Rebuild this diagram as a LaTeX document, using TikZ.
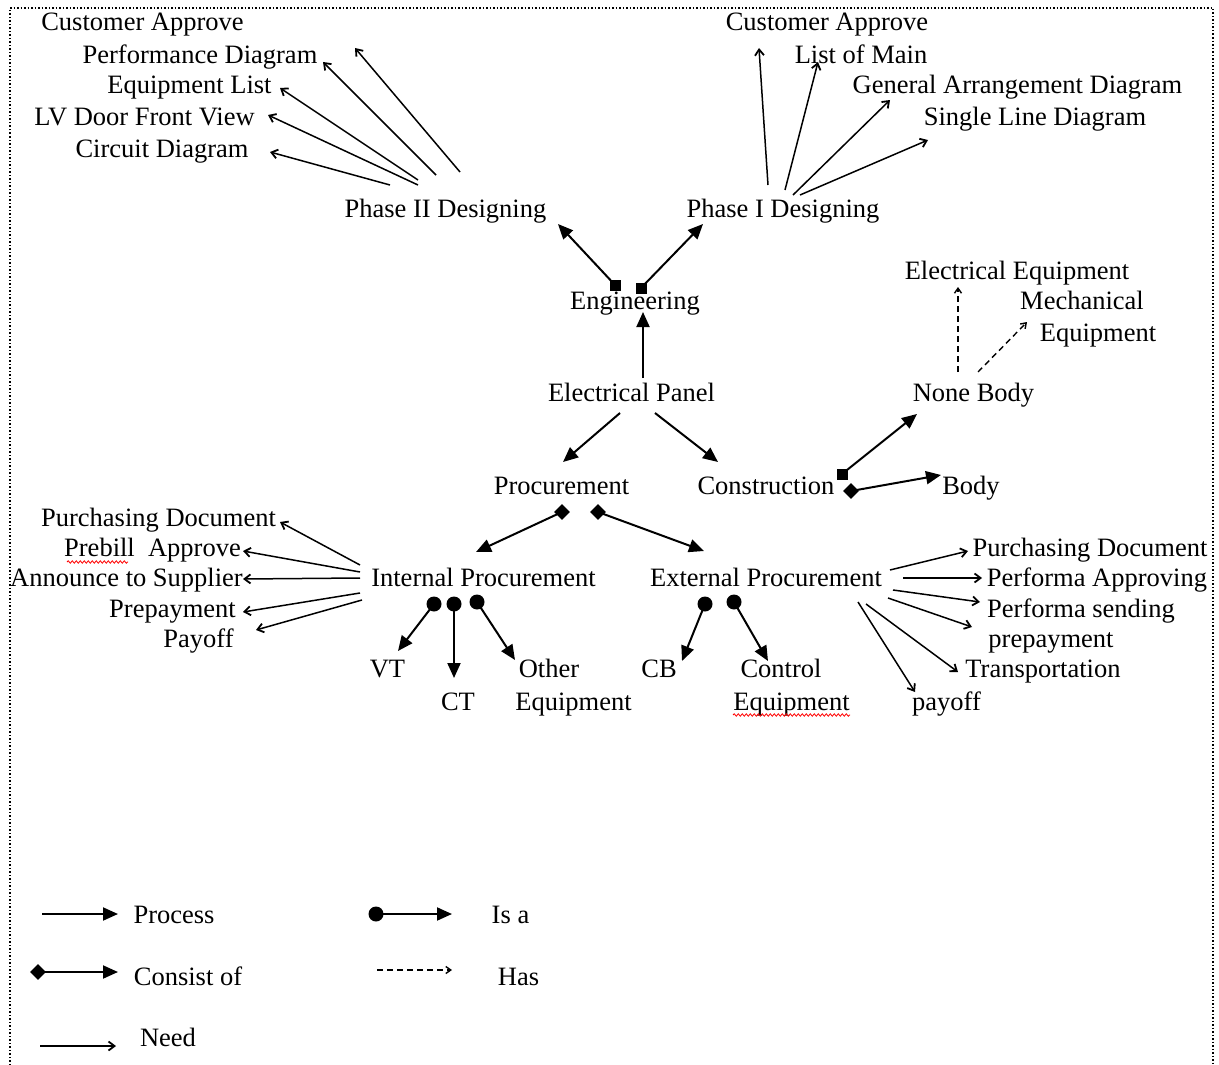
\documentclass[tikz,border=0pt]{standalone}
\usepackage{fontspec}
\setmainfont{Liberation Serif}
\usetikzlibrary{arrows.meta,shapes.geometric,decorations.pathmorphing}

\begin{document}
\begin{tikzpicture}[x=1pt,y=-1pt,
  lbl/.style={inner sep=0pt, anchor=base, font=\fontsize{26.5}{30}\selectfont},
  proc/.style={line width=2pt, -{Triangle[length=15pt,width=13pt]}},
  need/.style={line width=1.5pt, -{Straight Barb[length=6pt,width=9pt,line width=1.8pt]}},
  has/.style={line width=1.4pt, dash pattern=on 6pt off 4pt, -{Straight Barb[length=5pt,width=7pt]}},
  sq/.style={fill=black, minimum size=11pt, inner sep=0pt},
  dot/.style={circle, fill=black, minimum size=15pt, inner sep=0pt},
  dia/.style={diamond, fill=black, minimum size=16pt, inner sep=0pt},
  spell/.style={red, line width=0.8pt, decorate, decoration={snake, amplitude=1.2pt, segment length=4pt}}
]
\useasboundingbox (0,0) rectangle (1219,1065);
% open dotted frame
\draw[line width=1.5pt, dotted] (10,1065) -- (10,8) -- (1213,8) -- (1213,1065);

% ---------- labels ----------
\node[lbl] (caL)     at (142.5,31)  {Customer Approve};
\node[lbl] (perf)    at (200,64)    {Performance Diagram};
\node[lbl] (eqlist)  at (189.5,94)  {Equipment List};
\node[lbl] (lvdoor)  at (144.5,125) {LV Door Front View};
\node[lbl] (circ)    at (162,157)   {Circuit Diagram};
\node[lbl] (ph2)     at (445.5,217) {Phase II Designing};
\node[lbl] (caR)     at (827,31)    {Customer Approve};
\node[lbl] (listmain) at (861,64)   {List of Main};
\node[lbl] (gad)     at (1017.5,94) {General Arrangement Diagram};
\node[lbl] (sld)     at (1035,125)  {Single Line Diagram};
\node[lbl] (ph1)     at (783,217)   {Phase I Designing};
\node[lbl] (eng)     at (635,309)   {Engineering};
\node[lbl] (ep)      at (631.5,401) {Electrical Panel};
\node[lbl] (proc)    at (561.5,494) {Procurement};
\node[lbl] (cons)    at (766,494)   {Construction};
\node[lbl] (nb)      at (973.5,401) {None Body};
\node[lbl] (body)    at (971,494)   {Body};
\node[lbl] (ee)      at (1017,279)  {Electrical Equipment};
\node[lbl] (mech)    at (1082,309)  {Mechanical};
\node[lbl] (meq)     at (1098,341)  {Equipment};
\node[lbl] (ip)      at (483.5,586) {Internal Procurement};
\node[lbl] (pdL)     at (158.5,526) {Purchasing Document};
\node[lbl] (prebill) at (152.5,556) {Prebill\ \ Approve};
\node[lbl] (ann)     at (126.5,586) {Announce to Supplier};
\node[lbl] (prepL)   at (172.5,617) {Prepayment};
\node[lbl] (payoffL) at (198.5,647) {Payoff};
\node[lbl] (vt)      at (387.5,677) {VT};
\node[lbl] (ct)      at (458,710)   {CT};
\node[lbl] (other)   at (549,677)   {Other};
\node[lbl] (oeq)     at (573.5,710) {Equipment};
\node[lbl] (xp)      at (766,586)   {External Procurement};
\node[lbl] (cb)      at (659,677)   {CB};
\node[lbl] (ctrl)    at (781,677)   {Control};
\node[lbl] (ceq)     at (791.5,710) {Equipment};
\node[lbl] (pdR)     at (1090,556)  {Purchasing Document};
\node[lbl] (pa)      at (1097,586)  {Performa Approving};
\node[lbl] (ps)      at (1081,617)  {Performa sending};
\node[lbl] (prepR)   at (1051,647)  {prepayment};
\node[lbl] (trans)   at (1043,677)  {Transportation};
\node[lbl] (payoffR) at (946.5,710) {payoff};

% spell-check underlines
\draw[spell] (67,562) -- (128,562);
\draw[spell] (733,715) -- (850,715);

% ---------- Phase II needs ----------
\foreach \sx/\sy/\ex/\ey [count=\i] in {460/172/355/48, 436/175/323/62, 418/180/280/88, 418/185/268/115, 390/185/270/152}{
  \coordinate (p2s\i) at (\sx,\sy); \coordinate (p2e\i) at (\ex,\ey);
  \draw[need] (p2s\i) -- (p2e\i);
}
% ---------- Phase I needs ----------
\foreach \sx/\sy/\ex/\ey [count=\i] in {768/185/759/48, 785/190/818/62, 793/195/890/100, 800/195/928/140}{
  \coordinate (p1s\i) at (\sx,\sy); \coordinate (p1e\i) at (\ex,\ey);
  \draw[need] (p1s\i) -- (p1e\i);
}

% ---------- Engineering ----------
\node[sq] (engA) at (615,285) {};
\node[sq] (engB) at (641,288) {};
\coordinate (ph2in) at (558,224);
\coordinate (ph1in) at (703,224);
\draw[proc] (engA.center) -- (ph2in);
\draw[proc] (engB.center) -- (ph1in);
\coordinate (epTop) at (643,378);
\coordinate (engBot) at (643,312);
\draw[proc] (epTop) -- (engBot);

% ---------- Electrical Panel ----------
\coordinate (epL) at (620,413);
\coordinate (epR) at (655,413);
\coordinate (procIn) at (563,462);
\coordinate (consIn) at (718,462);
\draw[proc] (epL) -- (procIn);
\draw[proc] (epR) -- (consIn);

% ---------- Construction ----------
\node[sq] (consA) at (842,474) {};
\node[dia] (consB) at (851,491) {};
\coordinate (nbIn) at (917,414);
\coordinate (bodyIn) at (941,475);
\draw[proc] (consA.center) -- (nbIn);
\draw[proc] (consB.center) -- (bodyIn);

% ---------- None Body ----------
\coordinate (nbA) at (958,372);
\coordinate (nbB) at (978,372);
\coordinate (eeIn) at (958,287);
\coordinate (meqIn) at (1027,322);
\draw[has] (nbA) -- (eeIn);
\draw[has] (nbB) -- (meqIn);

% ---------- Procurement ----------
\node[dia] (procA) at (562,512) {};
\node[dia] (procB) at (598,512) {};
\coordinate (ipIn) at (476,552);
\coordinate (xpIn) at (704,551);
\draw[proc] (procA.center) -- (ipIn);
\draw[proc] (procB.center) -- (xpIn);

% ---------- Internal Procurement needs ----------
\foreach \sx/\sy/\ex/\ey [count=\i] in {360/565/280/522, 360/572/243/551, 360/578/243/579, 360/593/243/612, 362/600/256/630}{
  \coordinate (ips\i) at (\sx,\sy); \coordinate (ipe\i) at (\ex,\ey);
  \draw[need] (ips\i) -- (ipe\i);
}
% ---------- Internal Procurement kinds ----------
\node[dot] (ipA) at (434,604) {};
\node[dot] (ipB) at (454,604) {};
\node[dot] (ipC) at (477,602) {};
\coordinate (vtIn) at (398,651);
\coordinate (ctIn) at (454,678);
\coordinate (otherIn) at (515,660);
\draw[proc] (ipA.center) -- (vtIn);
\draw[proc] (ipB.center) -- (ctIn);
\draw[proc] (ipC.center) -- (otherIn);

% ---------- External Procurement kinds ----------
\node[dot] (xpA) at (705,604) {};
\node[dot] (xpB) at (734,602) {};
\coordinate (cbIn) at (682,661);
\coordinate (ctrlIn) at (768,661);
\draw[proc] (xpA.center) -- (cbIn);
\draw[proc] (xpB.center) -- (ctrlIn);

% ---------- External Procurement needs ----------
\foreach \sx/\sy/\ex/\ey [count=\i] in {890/570/968/551, 903/578/982/578, 893/590/980/602, 888/598/972/627, 866/604/958/672, 858/602/915/692}{
  \coordinate (xps\i) at (\sx,\sy); \coordinate (xpe\i) at (\ex,\ey);
  \draw[need] (xps\i) -- (xpe\i);
}

% ---------- legend ----------
\coordinate (lg1a) at (42,914);  \coordinate (lg1b) at (118,914);
\draw[proc] (lg1a) -- (lg1b);
\node[lbl] (lgProc) at (174,923) {Process};
\node[dia] (lg2a) at (38,972) {};  \coordinate (lg2b) at (118,972);
\draw[proc] (lg2a.center) -- (lg2b);
\node[lbl] (lgCons) at (188,985) {Consist of};
\coordinate (lg3a) at (40,1046);  \coordinate (lg3b) at (116,1046);
\draw[need] (lg3a) -- (lg3b);
\node[lbl] (lgNeed) at (168,1046) {Need};
\node[dot] (lg4a) at (376,914) {};  \coordinate (lg4b) at (452,914);
\draw[proc] (lg4a.center) -- (lg4b);
\node[lbl] (lgIsa) at (510.5,923) {Is a};
\coordinate (lg5a) at (377,970);  \coordinate (lg5b) at (452,970);
\draw[has] (lg5a) -- (lg5b);
\node[lbl] (lgHas) at (518.5,985) {Has};
\end{tikzpicture}
\end{document}
